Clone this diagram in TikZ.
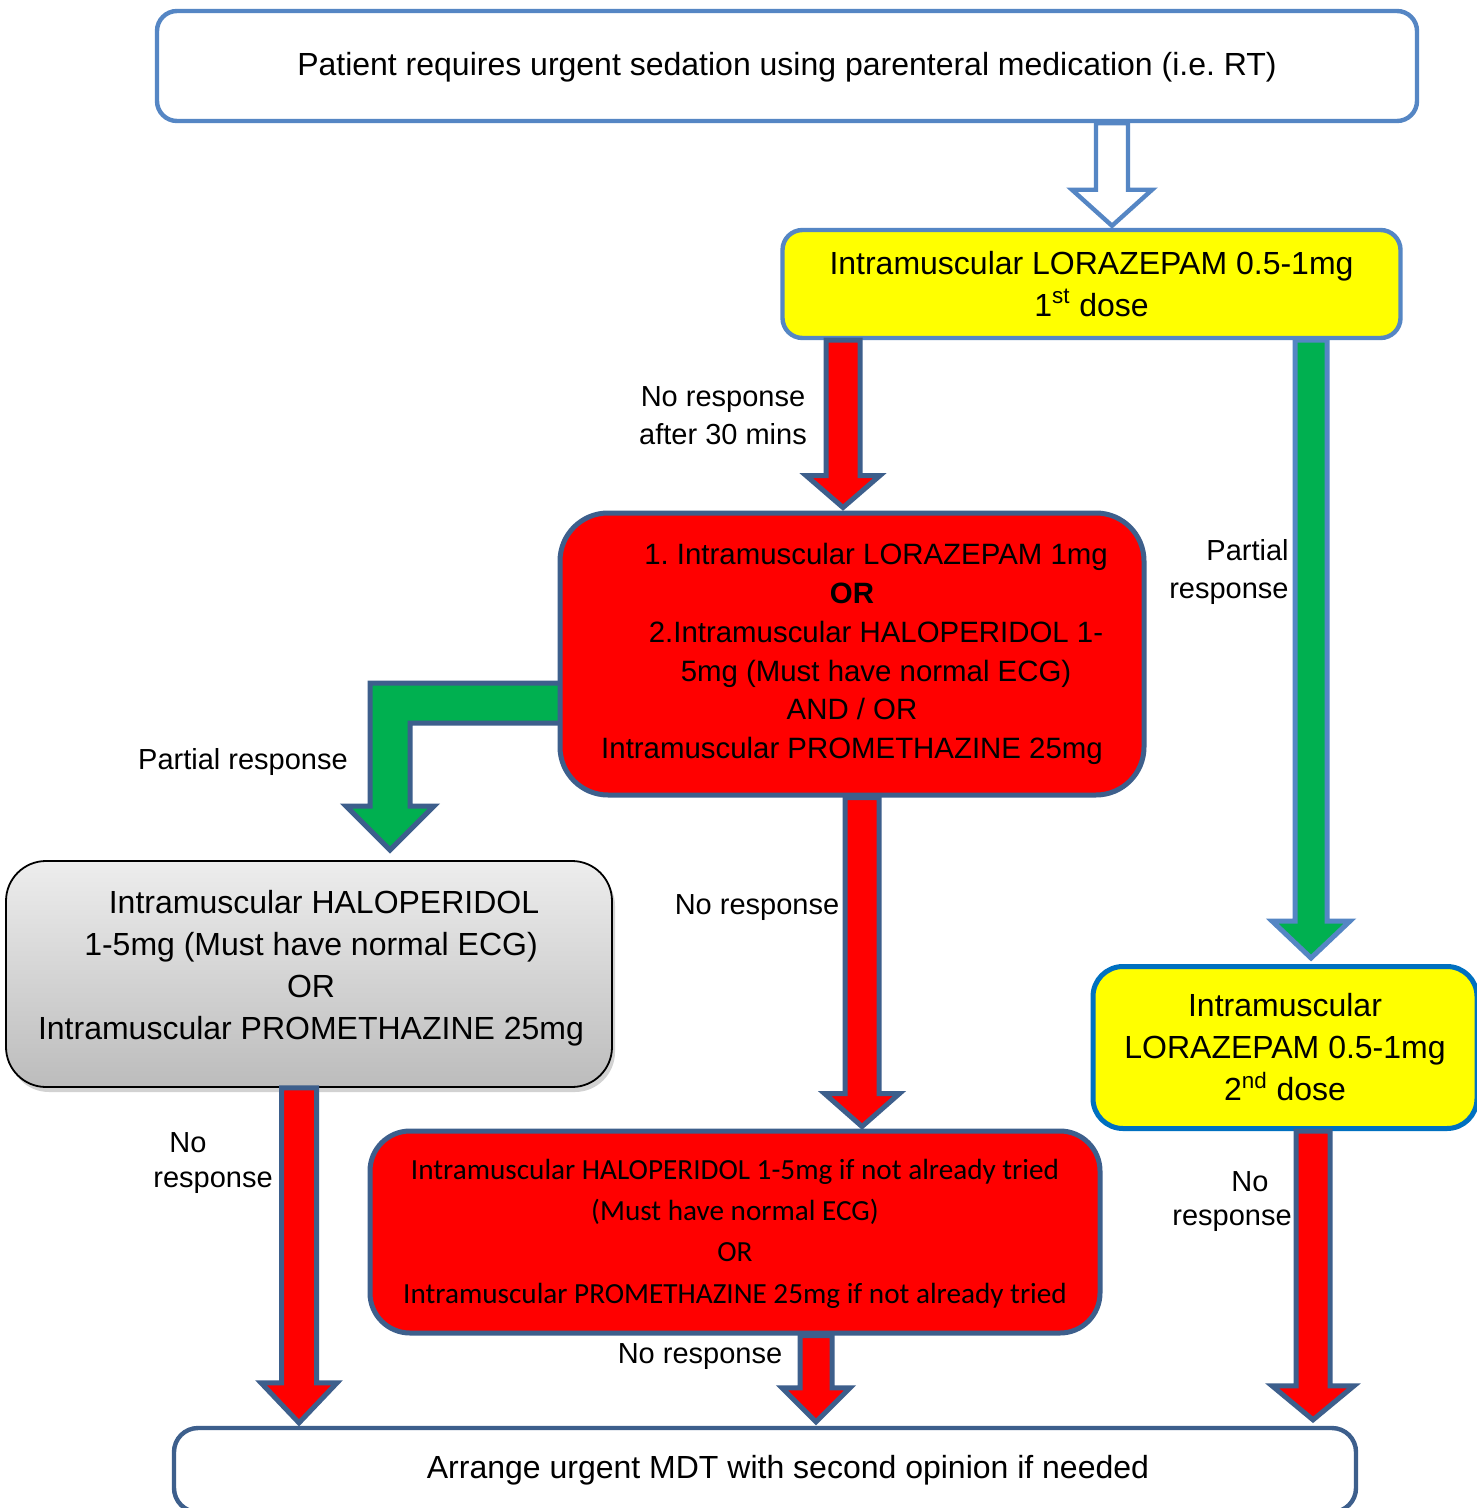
\documentclass[tikz,border=0pt]{standalone}
\usepackage{fontspec}
\setmainfont{Liberation Sans}
\newfontfamily\calibfont{Carlito}
\usetikzlibrary{calc,shadows}
\frenchspacing
\definecolor{lblue}{HTML}{5586C4}
\definecolor{dblue}{HTML}{3D5F8C}
\definecolor{bred}{HTML}{FF0000}
\definecolor{bgreen}{HTML}{00B050}
\definecolor{byellow}{HTML}{FFFF00}
\definecolor{yblue}{HTML}{0070C0}
\definecolor{greytop}{HTML}{EDEDED}
\definecolor{greybot}{HTML}{BCBCBC}
% #1 style, #2 x (px), #3 from, #4 to, #5 shaft half width, #6 head half width, #7 head length
\newcommand{\blockdown}[7]{%
  \draw[#1] let \p1=(#3), \p2=(#4), \p3=(#2,0) in
   (\x3-#5,\y1) -- (\x3-#5,\y2+#7) -- (\x3-#6,\y2+#7) -- (\x3,\y2)
   -- (\x3+#6,\y2+#7) -- (\x3+#5,\y2+#7) -- (\x3+#5,\y1) -- cycle;}
\tikzset{
  box/.style={rectangle, align=center, inner sep=0pt, font=\fontsize{16pt}{21pt}\selectfont},
  redbox/.style={box, fill=bred, draw=dblue, line width=2.5pt},
  redarr/.style={fill=bred, draw=dblue, line width=2.5pt, line join=miter},
  greenarr/.style={fill=bgreen, draw=lblue, line width=2.5pt, line join=miter},
  greenarrd/.style={fill=bgreen, draw=dblue, line width=2.5pt, line join=miter},
  hollowarr/.style={fill=white, draw=lblue, line width=2.2pt, line join=miter},
  lbl/.style={inner sep=0pt, font=\fontsize{14.5pt}{19pt}\selectfont}
}
\begin{document}
\begin{tikzpicture}[x=0.5pt,y=-0.5pt]
\useasboundingbox (0,0) rectangle (1476,1508);
\fill[white] (0,0) rectangle (1476,1508);

% top box
\node[box, draw=lblue, fill=white, line width=2.2pt, minimum width=630pt, minimum height=55pt, rounded corners=10pt, text depth=2pt] (top) at (787,66)
  {Patient requires urgent sedation using parenteral medication (i.e. RT)};

% first lorazepam box
\node[box, draw=lblue, fill=byellow, line width=2.2pt, minimum width=309pt, minimum height=54pt, rounded corners=10pt] (lor1) at (1091.5,284)
  {Intramuscular LORAZEPAM 0.5-1mg\\1\textsuperscript{st} dose};

% green L arrow (drawn before the middle box)
\coordinate (gtip) at (390,850);
\coordinate (gL) at ([xshift=6pt]557,654);
\draw[greenarrd] (gL |- 0,683) -- (370,683) -- (370,806) -- (346,806) -- (gtip)
  -- (434,806) -- (410,806) -- (410,723) -- (gL |- 0,723) -- cycle;

% middle red box
\node[redbox, minimum width=292pt, minimum height=141pt, rounded corners=24pt,
  font=\fontsize{14.7pt}{19.4pt}\selectfont] (mid) at (852,654)
  {\hspace*{24pt}1. Intramuscular LORAZEPAM 1mg\\
   \textbf{OR}\\
   \hspace*{24pt}2.Intramuscular HALOPERIDOL 1-\\
   \hspace*{24pt}5mg (Must have normal ECG)\\
   AND / OR\\
   Intramuscular PROMETHAZINE 25mg};

% grey box
\node[rectangle, draw=black, line width=0.9pt, top color=greytop, bottom color=greybot,
  rounded corners=20pt, minimum width=303pt, minimum height=113pt,
  drop shadow={shadow xshift=1.5pt, shadow yshift=-2.5pt, opacity=0.35}] (grey) at (309,974) {};
\node[box] (greytext) at (311,968)
  {\hspace*{13pt}Intramuscular HALOPERIDOL\\1-5mg (Must have normal ECG)\\OR\\Intramuscular PROMETHAZINE 25mg};

% second lorazepam box
\node[box, draw=yblue, fill=byellow, line width=2.5pt, minimum width=192pt, minimum height=81pt, rounded corners=15pt] (lor2) at (1285,1047.5)
  {Intramuscular\\LORAZEPAM 0.5-1mg\\2\textsuperscript{nd} dose};

% lower red box
\node[redbox, minimum width=365pt, minimum height=101pt, rounded corners=20pt,
  font=\calibfont\fontsize{14.6pt}{20.7pt}\selectfont, text depth=1pt] (lowred) at (735,1232)
  {Intramuscular HALOPERIDOL 1-5mg if not already tried\\
   (Must have normal ECG)\\
   OR\\
   Intramuscular PROMETHAZINE 25mg if not already tried};

% bottom box
\node[box, draw=dblue, fill=white, line width=2.2pt, minimum width=591pt, minimum height=42pt, rounded corners=12pt] (bottom) at (765,1470)
  {\hspace*{23pt}Arrange urgent MDT with second opinion if needed};

% arrows
\blockdown{hollowarr}{1112}{top.south}{[yshift=1pt]lor1.north}{8pt}{20pt}{18pt}
\blockdown{redarr}{843}{lor1.south}{[yshift=1.5pt]mid.north}{8.5pt}{18.5pt}{16pt}
\blockdown{greenarr}{1311}{lor1.south}{[yshift=3pt]lor2.north}{8pt}{19.5pt}{18.5pt}
\blockdown{redarr}{862}{mid.south}{[yshift=1pt]lowred.north}{8.5pt}{18.75pt}{16.5pt}
\blockdown{redarr}{299}{grey.south}{[yshift=1.5pt]bottom.north}{8.75pt}{19pt}{20pt}
\blockdown{redarr}{816}{lowred.south}{[yshift=2pt]bottom.north}{8pt}{17pt}{17pt}
\blockdown{redarr}{1313}{lor2.south}{[yshift=3pt]bottom.north}{8.5pt}{20.5pt}{17pt}

% labels
\node[lbl, align=center] (l1) at (723,416) {No response\\after 30 mins};
\node[lbl, align=right, anchor=east] (l2) at (1289,572) {Partial\\response};
\node[lbl] (l3) at (243,762) {Partial response};
\node[lbl] (l4) at (757,908) {No response};
\node[lbl] (l5a) at (188,1143) {No};
\node[lbl] (l5b) at (213,1183) {response};
\node[lbl] (l6a) at (1250,1182) {No};
\node[lbl] (l6b) at (1232,1221) {response};
\node[lbl] (l7) at (700,1357) {No response};
\end{tikzpicture}
\end{document}
